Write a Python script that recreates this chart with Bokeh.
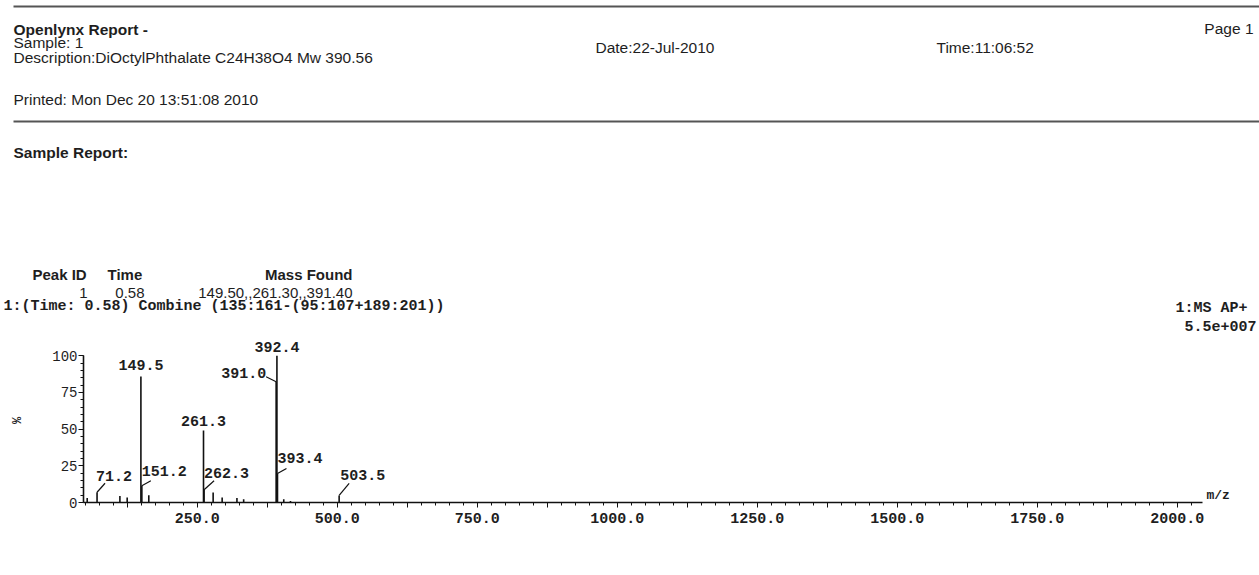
from bokeh.plotting import figure
from bokeh.models import Range1d, FixedTicker, ColumnDataSource
from bokeh.embed import file_html
from bokeh.resources import INLINE
from bokeh.core.properties import value

# ---------------- data ----------------
peak_mz = [53.6, 71.2, 112.0, 125.0, 149.5, 151.2, 163.6, 261.3, 262.3, 278.5,
           294.6, 321.0, 333.0, 391.0, 392.4, 393.4, 404.6, 416.6, 503.5]
peak_int = [3.0, 7.0, 4.5, 3.4, 85.9, 11.4, 5.0, 49.1, 8.7, 6.8,
            3.4, 3.0, 2.3, 82.3, 100.0, 19.8, 2.3, 1.1, 4.8]

top_labels = ["149.5", "261.3", "392.4"]
leader_labels = ["71.2", "151.2", "262.3", "393.4", "503.5", "391.0"]

x_major = [125, 250, 375, 500, 625, 750, 875, 1000, 1125, 1250, 1375, 1500,
           1625, 1750, 1875, 2000]
x_labelled = [250, 500, 750, 1000, 1250, 1500, 1750, 2000]
x_minor = list(range(50, 2026, 25))
y_major = [0, 25, 50, 75, 100]
y_minor = list(range(0, 101, 5))

x_start, x_axis_end = 47, 2045
x_title = "m/z"
y_title = "%"

header_lines = {
    "title": "Openlynx Report -",
    "sample": "Sample: 1",
    "desc": "Description:DiOctylPhthalate C24H38O4 Mw 390.56",
    "date": "Date:22-Jul-2010",
    "time": "Time:11:06:52",
    "page": "Page 1",
    "printed": "Printed: Mon Dec 20 13:51:08 2010",
    "report": "Sample Report:",
}
table_head = ["Peak ID", "Time", "Mass Found"]
table_row = ["1", "0.58", "149.50,,261.30,,391.40"]
scan_line = "1:(Time: 0.58) Combine (135:161-(95:107+189:201))"
mode_line = "1:MS AP+"
tic_line = "5.5e+007"

INK = "#1e1e1e"
SANS = "Liberation Sans"
MONO = "Liberation Mono"

# ---------------- header figure (pixel layout) ----------------
W = 1259
H1 = 334
hdr = figure(width=W, height=H1, output_backend="svg", toolbar_location=None,
             x_range=Range1d(0, W), y_range=Range1d(H1, 0),
             x_axis_location=None, y_axis_location=None,
             min_border=0, tools="")
hdr.grid.visible = False
hdr.outline_line_color = None
hdr.background_fill_color = "white"

def htext(x, y, t, size="15.5px", bold=False, align="left", font=SANS):
    hdr.text(x=[x], y=[y], text=[t], text_font=value(font), text_font_size=size,
             text_font_style="bold" if bold else "normal", text_align=align,
             text_baseline="middle", text_color=INK)

hdr.segment(x0=[13, 13], y0=[6, 121], x1=[W, W], y1=[6, 121],
            line_color="#555555", line_width=2.2)
htext(13, 29, header_lines["title"], bold=True)
htext(13, 42, header_lines["sample"])
htext(13, 57, header_lines["desc"])
htext(595, 47, header_lines["date"])
htext(936, 47, header_lines["time"])
htext(1253, 28, header_lines["page"], align="right")
htext(13, 99, header_lines["printed"])
htext(13, 152, header_lines["report"], bold=True)

htext(32, 274, table_head[0], bold=True, size="15px")
htext(107, 274, table_head[1], bold=True, size="15px")
htext(352, 274, table_head[2], bold=True, align="right", size="15px")
htext(87, 292, table_row[0], align="right", size="15px")
htext(144, 292, table_row[1], align="right", size="15px")
htext(352, 292, table_row[2], align="right", size="15px")
htext(3, 306, scan_line, size="15px", bold=True, font=MONO)
htext(1247, 308, mode_line, size="15px", bold=True, align="right", font=MONO)
htext(1256, 325, tic_line, size="15px", bold=True, align="right", font=MONO)

# ---------------- spectrum figure ----------------
H2 = 236
bl, br, bt, bb = 83, 2, 4, 68
frame_w = W - bl - br
frame_h = H2 - bt - bb
px_per_pct = 146.7
px_per_mz = 0.56
y_end = frame_h / px_per_pct * 100
x_end = x_start + frame_w / px_per_mz

sp = figure(width=W, height=H2, output_backend="svg", toolbar_location=None,
            x_range=Range1d(x_start, x_end), y_range=Range1d(0, y_end),
            min_border_left=bl, min_border_right=br, min_border_top=bt,
            min_border_bottom=bb, tools="")
sp.grid.visible = False
sp.outline_line_color = None

src = ColumnDataSource(dict(mz=peak_mz, inten=peak_int))
sp.segment(x0="mz", y0=0, x1="mz", y1="inten", source=src,
           line_color="#111111", line_width=1.6)

def intensity_of(lbl):
    m = float(lbl)
    i = min(range(len(peak_mz)), key=lambda k: abs(peak_mz[k] - m))
    return peak_mz[i], peak_int[i]

# labels directly above peaks
t_dy = {"149.5": 11, "261.3": 9, "392.4": 9}
tx, ty, tt, toff = [], [], [], []
for lb in top_labels:
    m, h = intensity_of(lb)
    tx.append(m); ty.append(h); tt.append(lb); toff.append(-t_dy[lb])
sp.text(x=tx, y=ty, text=tt, y_offset=toff, text_align="center",
        text_baseline="middle", text_font=value(MONO), text_font_size="15px",
        text_font_style="bold", text_color=INK)

# labels with leader lines: (leader dx, dy, text dx, text dy, align)
lead_style = {
    "71.2": (8, 9, -1, 16.5, "left"),
    "151.2": (9, 5, 0, 15, "left"),
    "262.3": (10, 9, 0, 17, "left"),
    "393.4": (9, 5, 0, 15, "left"),
    "503.5": (10, 12, 1, 20, "left"),
    "391.0": (-10, 5, -10, 8.5, "right"),
}
lx0, ly0, lx1, ly1 = [], [], [], []
for lb in leader_labels:
    m, h = intensity_of(lb)
    ldx, ldy, tdx, tdy, al = lead_style[lb]
    lx0.append(m); ly0.append(h)
    lx1.append(m + ldx / px_per_mz); ly1.append(h + ldy / px_per_pct * 100)
    sp.text(x=[m], y=[h], text=[lb], x_offset=[tdx], y_offset=[-tdy],
            text_align=al, text_baseline="middle", text_font=value(MONO),
            text_font_size="15px", text_font_style="bold", text_color=INK)
sp.segment(x0=lx0, y0=ly0, x1=lx1, y1=ly1, line_color="#111111", line_width=1.2)

# axis title m/z sitting on the right end of the axis line
sp.text(x=[x_axis_end], y=[0], text=[x_title], x_offset=[4], y_offset=[0],
        text_align="left", text_baseline="bottom", text_font=value(MONO),
        text_font_size="13px", text_font_style="bold", text_color=INK)

# x axis
xa = sp.xaxis[0]
xa.ticker = FixedTicker(ticks=x_major, minor_ticks=x_minor)
xa.bounds = (x_start, x_axis_end)
xa.major_label_overrides = {t: (f"{t:.1f}" if t in x_labelled else "") for t in x_major}
xa.axis_line_width = 1.6
xa.axis_line_color = "#111111"
xa.major_tick_in = 0
xa.major_tick_out = 5
xa.minor_tick_in = 0
xa.minor_tick_out = 3
xa.major_tick_line_color = "#111111"
xa.minor_tick_line_color = "#111111"
xa.major_label_standoff = 5
xa.major_label_text_font = MONO
xa.major_label_text_font_size = "15px"
xa.major_label_text_font_style = "bold"
xa.major_label_text_color = INK

# y axis
ya = sp.yaxis[0]
ya.ticker = FixedTicker(ticks=y_major, minor_ticks=y_minor)
ya.bounds = (0, 100)
ya.axis_line_width = 1.6
ya.axis_line_color = "#111111"
ya.major_tick_in = 0
ya.major_tick_out = 5
ya.minor_tick_in = 0
ya.minor_tick_out = 3
ya.major_tick_line_color = "#111111"
ya.minor_tick_line_color = "#111111"
ya.major_label_standoff = 1
ya.major_label_text_font = MONO
ya.major_label_text_font_size = "14px"
ya.major_label_text_color = INK
ya.axis_label = y_title
ya.axis_label_text_font = MONO
ya.axis_label_text_font_size = "12px"
ya.axis_label_text_font_style = "bold"
ya.axis_label_standoff = 24
ya.axis_label_text_color = INK

open("out.html", "w").write(file_html([hdr, sp], INLINE))
